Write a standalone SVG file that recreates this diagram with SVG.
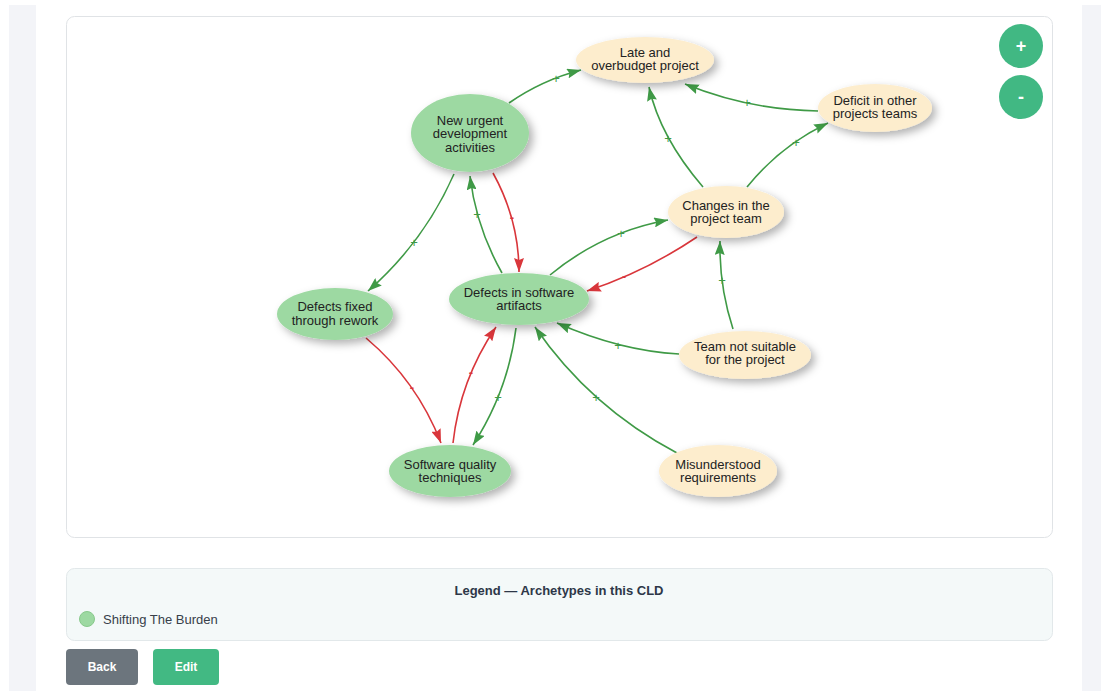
<svg xmlns="http://www.w3.org/2000/svg" width="1101" height="691" viewBox="0 0 1101 691">
  <defs>
    <style>
      .node-text { font-family: "Liberation Sans", Arial, sans-serif; font-size: 13px; fill: #222; text-anchor: middle; }
      .green-node { fill: #9dd9a2; }
      .cream-node { fill: #fdedcd; }
      .pos { fill: none; stroke: #3f9a46; stroke-width: 1.6; marker-end: url(#arrow-green); }
      .neg { fill: none; stroke: #d9363b; stroke-width: 1.6; marker-end: url(#arrow-red); }
      .lbl { font-family: "Liberation Sans", Arial, sans-serif; font-size: 13px; text-anchor: middle; }
      .lbl-pos { fill: #3f9a46; }
      .lbl-neg { fill: #d9363b; font-weight: bold; }
      .ui-text { font-family: "Liberation Sans", Arial, sans-serif; }
    </style>
    <marker id="arrow-green" viewBox="0 0 14 10" refX="14" refY="5" markerWidth="14" markerHeight="10" markerUnits="userSpaceOnUse" orient="auto">
      <path d="M0,0 L14,5 L0,10 L2,5 Z" fill="#3f9a46"/>
    </marker>
    <marker id="arrow-red" viewBox="0 0 14 10" refX="14" refY="5" markerWidth="14" markerHeight="10" markerUnits="userSpaceOnUse" orient="auto">
      <path d="M0,0 L14,5 L0,10 L2,5 Z" fill="#d9363b"/>
    </marker>
    <filter id="shadow" x="-30%" y="-30%" width="170%" height="180%">
      <feDropShadow dx="4" dy="4" stdDeviation="4.5" flood-color="#000" flood-opacity="0.3"/>
    </filter>
  </defs>

  <!-- page background -->
  <rect x="0" y="0" width="1101" height="691" fill="#ffffff"/>
  <rect x="9" y="5" width="27" height="686" fill="#f3f4f8"/>
  <rect x="1082" y="5" width="19" height="686" fill="#f3f4f8"/>

  <!-- diagram canvas -->
  <rect x="66.5" y="16.5" width="986" height="521" rx="8" fill="#ffffff" stroke="#e0e3e6"/>

  <!-- connectors -->
  <g id="connectors">
    <path class="pos" d="M509,103 Q542,80 581,70"/>
    <path class="pos" d="M818,111 Q749,110 685,84"/>
    <path class="pos" d="M703,187 Q660,137 649,87"/>
    <path class="pos" d="M747,187 Q780,146 828,123"/>
    <path class="pos" d="M454,174 Q424,242 368,291"/>
    <path class="pos" d="M502,273 Q476,227 470,176"/>
    <path class="neg" d="M493,173 Q519,220 519,272"/>
    <path class="pos" d="M550,275 Q602,232 668,220"/>
    <path class="neg" d="M697,237 Q645,272 587,291"/>
    <path class="pos" d="M733,329 Q719,286 720,241"/>
    <path class="pos" d="M679,354 Q621,351 557,323"/>
    <path class="pos" d="M677,453 Q590,407 535,327"/>
    <path class="neg" d="M366,338 Q417,381 441,443"/>
    <path class="neg" d="M453,443 Q460,380 496,327"/>
    <path class="pos" d="M516,328 Q508,391 473,445"/>

    <text class="lbl lbl-pos" x="556" y="82.5">+</text>
    <text class="lbl lbl-pos" x="747" y="106.5">+</text>
    <text class="lbl lbl-pos" x="668" y="142.5">+</text>
    <text class="lbl lbl-pos" x="796" y="146.5">+</text>
    <text class="lbl lbl-pos" x="414" y="246.5">+</text>
    <text class="lbl lbl-pos" x="477" y="218.5">+</text>
    <text class="lbl lbl-neg" x="512" y="222">-</text>
    <text class="lbl lbl-pos" x="621" y="237.5">+</text>
    <text class="lbl lbl-neg" x="624" y="281">-</text>
    <text class="lbl lbl-pos" x="722" y="284.5">+</text>
    <text class="lbl lbl-pos" x="618" y="349.5">+</text>
    <text class="lbl lbl-pos" x="596" y="401.5">+</text>
    <text class="lbl lbl-neg" x="412" y="392">-</text>
    <text class="lbl lbl-neg" x="471" y="377">-</text>
    <text class="lbl lbl-pos" x="498" y="401.5">+</text>
  </g>

  <!-- nodes -->
  <g id="node-late-overbudget">
    <ellipse class="cream-node" cx="645" cy="60" rx="69" ry="23" filter="url(#shadow)"/>
    <text class="node-text" x="645" y="57">Late and</text>
    <text class="node-text" x="645" y="70">overbudget project</text>
  </g>
  <g id="node-new-urgent">
    <ellipse class="green-node" cx="470" cy="133" rx="59" ry="39" filter="url(#shadow)"/>
    <text class="node-text" x="470" y="124.5">New urgent</text>
    <text class="node-text" x="470" y="138">development</text>
    <text class="node-text" x="470" y="151.5">activities</text>
  </g>
  <g id="node-deficit-other">
    <ellipse class="cream-node" cx="875" cy="108" rx="57" ry="24" filter="url(#shadow)"/>
    <text class="node-text" x="875" y="104.5">Deficit in other</text>
    <text class="node-text" x="875" y="118">projects teams</text>
  </g>
  <g id="node-changes-team">
    <ellipse class="cream-node" cx="726" cy="212" rx="58" ry="26" filter="url(#shadow)"/>
    <text class="node-text" x="726" y="210">Changes in the</text>
    <text class="node-text" x="726" y="223">project team</text>
  </g>
  <g id="node-defects-software">
    <ellipse class="green-node" cx="519" cy="299" rx="70" ry="26" filter="url(#shadow)"/>
    <text class="node-text" x="519" y="296.5">Defects in software</text>
    <text class="node-text" x="519" y="309.5">artifacts</text>
  </g>
  <g id="node-defects-rework">
    <ellipse class="green-node" cx="335" cy="314" rx="58" ry="26" filter="url(#shadow)"/>
    <text class="node-text" x="335" y="311">Defects fixed</text>
    <text class="node-text" x="335" y="324.5">through rework</text>
  </g>
  <g id="node-quality-techniques">
    <ellipse class="green-node" cx="450" cy="471" rx="61" ry="26" filter="url(#shadow)"/>
    <text class="node-text" x="450" y="468.5">Software quality</text>
    <text class="node-text" x="450" y="482">techniques</text>
  </g>
  <g id="node-team-not-suitable">
    <ellipse class="cream-node" cx="745" cy="355" rx="66" ry="24" filter="url(#shadow)"/>
    <text class="node-text" x="745" y="351">Team not suitable</text>
    <text class="node-text" x="745" y="364">for the project</text>
  </g>
  <g id="node-misunderstood">
    <ellipse class="cream-node" cx="718" cy="471" rx="59" ry="26" filter="url(#shadow)"/>
    <text class="node-text" x="718" y="469">Misunderstood</text>
    <text class="node-text" x="718" y="482">requirements</text>
  </g>

  <!-- zoom controls -->
  <g id="zoom-in">
    <circle cx="1021" cy="46" r="22" fill="#41b883"/>
    <text class="ui-text" x="1021" y="52" font-size="18" font-weight="bold" fill="#ffffff" text-anchor="middle">+</text>
  </g>
  <g id="zoom-out">
    <circle cx="1021" cy="97" r="22" fill="#41b883"/>
    <text class="ui-text" x="1021" y="103" font-size="18" font-weight="bold" fill="#ffffff" text-anchor="middle">-</text>
  </g>

  <!-- legend -->
  <g id="legend">
    <rect x="66.5" y="568.5" width="986" height="72" rx="8" fill="#f4f9f9" stroke="#e2e8ea"/>
    <text class="ui-text" x="559" y="595" font-size="13" font-weight="bold" fill="#2d3748" text-anchor="middle">Legend — Archetypes in this CLD</text>
    <circle cx="87" cy="619" r="7.5" fill="#9dd9a2" stroke="#88c98c"/>
    <text class="ui-text" x="103" y="623.5" font-size="13" fill="#37404a">Shifting The Burden</text>
  </g>

  <!-- action buttons -->
  <g id="btn-back">
    <rect x="66" y="649" width="72" height="36" rx="4" fill="#6c757d"/>
    <text class="ui-text" x="102" y="671" font-size="12" font-weight="bold" fill="#ffffff" text-anchor="middle">Back</text>
  </g>
  <g id="btn-edit">
    <rect x="153" y="649" width="66" height="36" rx="4" fill="#42b983"/>
    <text class="ui-text" x="186" y="671" font-size="12" font-weight="bold" fill="#ffffff" text-anchor="middle">Edit</text>
  </g>
</svg>
